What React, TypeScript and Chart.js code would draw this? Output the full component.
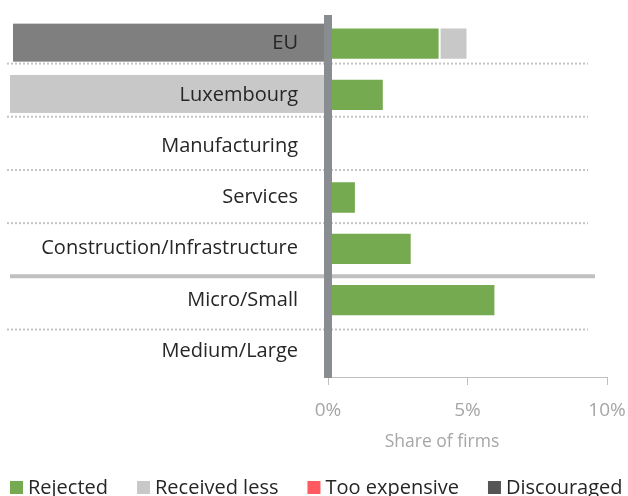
import React, { useEffect, useRef } from "react";
import { Chart, registerables } from "chart.js";

Chart.register(...registerables);

const categories = [
  "EU",
  "Luxembourg",
  "Manufacturing",
  "Services",
  "Construction/Infrastructure",
  "Micro/Small",
  "Medium/Large",
];
const rejected = [4, 2, 0, 1, 3, 6, 0];
const receivedLess = [1, 0, 0, 0, 0, 0, 0];
const tooExpensive = [0, 0, 0, 0, 0, 0, 0];
const discouraged = [0, 0, 0, 0, 0, 0, 0];
const xTicks = [0, 5, 10];
const xTitle = "Share of firms";

const seriesNames = ["Rejected", "Received less", "Too expensive", "Discouraged"];
const seriesColors = ["#75aa50", "#c8c8c8", "#ff5a5f", "#555555"];
const labelBands = ["#7f7f7f", "#c8c8c8", null, null, null, null, null];
const solidBreakAfter = 4;

const FONT = "'Open Sans', 'Noto Sans', sans-serif";

const decorPlugin = {
  id: "decor",
  beforeDraw(chart: any) {
    const ctx = chart.ctx;
    const y = chart.scales.y;
    const area = chart.chartArea;
    ctx.save();
    labelBands.forEach((c, i) => {
      if (!c) return;
      const cy = y.getPixelForValue(i) - 1;
      ctx.fillStyle = c;
      ctx.fillRect(i === 0 ? 13 : 10, cy - 19, area.left - (i === 0 ? 13 : 10), 38);
    });
    for (let i = 0; i < categories.length - 1; i++) {
      const sy = (y.getPixelForValue(i) + y.getPixelForValue(i + 1)) / 2 + (i - 3) * 1.9;
      if (i === solidBreakAfter) {
        ctx.strokeStyle = "#c0c0c0";
        ctx.lineWidth = 4;
        ctx.setLineDash([]);
        ctx.beginPath();
        ctx.moveTo(10, sy);
        ctx.lineTo(595, sy);
        ctx.stroke();
      } else {
        ctx.strokeStyle = "#c4c4c4";
        ctx.lineWidth = 2;
        ctx.setLineDash([2, 2]);
        ctx.beginPath();
        ctx.moveTo(7, sy);
        ctx.lineTo(588, sy);
        ctx.stroke();
      }
    }
    ctx.restore();
  },
  afterDatasetsDraw(chart: any) {
    const ctx = chart.ctx;
    const x = chart.scales.x;
    const area = chart.chartArea;
    const x0 = x.getPixelForValue(0);
    ctx.save();
    ctx.fillStyle = "#898c90";
    ctx.fillRect(x0 - 4, 15, 8, area.bottom + 1 - 15);
    ctx.restore();
  },
  afterDraw(chart: any) {
    const ctx = chart.ctx;
    ctx.save();
    ctx.fillStyle = "#a6a6a6";
    ctx.font = `17.5px ${FONT}`;
    ctx.textAlign = "center";
    ctx.textBaseline = "middle";
    ctx.fillText(xTitle, 442, 442);
    ctx.font = `20px ${FONT}`;
    ctx.textAlign = "left";
    let lx = 10;
    const ly = 487;
    chart.data.datasets.forEach((ds: any) => {
      ctx.fillStyle = ds.backgroundColor;
      ctx.fillRect(lx, ly - 6, 13, 13);
      ctx.fillStyle = "#262626";
      ctx.fillText(ds.label, lx + 18, ly + 1);
      lx += 18 + ctx.measureText(ds.label).width + 29;
    });
    ctx.restore();
  },
};

export default function App() {
  const ref = useRef<HTMLCanvasElement | null>(null);
  useEffect(() => {
    if (!ref.current) return;
    const seriesData = [rejected, receivedLess, tooExpensive, discouraged];
    const chart = new Chart(ref.current, {
      type: "bar",
      data: {
        labels: categories,
        datasets: seriesNames.map((name, i) => ({
          label: name,
          data: seriesData[i],
          backgroundColor: seriesColors[i],
          borderColor: "rgba(255,255,255,0.55)",
          borderWidth: 1,
          borderSkipped: false,
          categoryPercentage: 1,
          barPercentage: 0.63,
        })),
      },
      options: {
        indexAxis: "y",
        responsive: false,
        animation: false,
        layout: { padding: { left: 0, right: 21, top: 18, bottom: 0 } },
        plugins: { legend: { display: false }, tooltip: { enabled: false } },
        scales: {
          x: {
            stacked: true,
            min: 0,
            max: 10,
            afterBuildTicks: (s: any) => {
              s.ticks = xTicks.map((v) => ({ value: v }));
            },
            ticks: {
              callback: (v: any) => v + "%",
              color: "#a6a6a6",
              font: { family: FONT, size: 19 },
              padding: 14,
              maxRotation: 0,
            },
            grid: {
              display: true,
              drawOnChartArea: false,
              drawTicks: true,
              tickLength: 8,
              color: "#bfbfbf",
            },
            border: { display: true, color: "#bfbfbf" },
            afterFit: (s: any) => {
              s.height = 119;
              s.paddingLeft = 0;
              s.paddingRight = 0;
              s.paddingTop = 0;
              s.paddingBottom = 0;
            },
          },
          y: {
            stacked: true,
            ticks: {
              color: "#262626",
              font: { family: FONT, size: 20 },
              padding: 30,
            },
            grid: { display: false, drawTicks: false },
            border: { display: false },
            afterFit: (s: any) => {
              s.width = 328;
              s.paddingTop = 0;
              s.paddingBottom = 0;
              s.paddingLeft = 0;
              s.paddingRight = 0;
            },
          },
        },
      },
      plugins: [decorPlugin],
    });
    return () => chart.destroy();
  }, []);
  return (
    <div style={{ position: "fixed", left: 0, top: 0, width: 628, height: 496, background: "#fff" }}>
      <canvas ref={ref} width={628} height={496} />
    </div>
  );
}
